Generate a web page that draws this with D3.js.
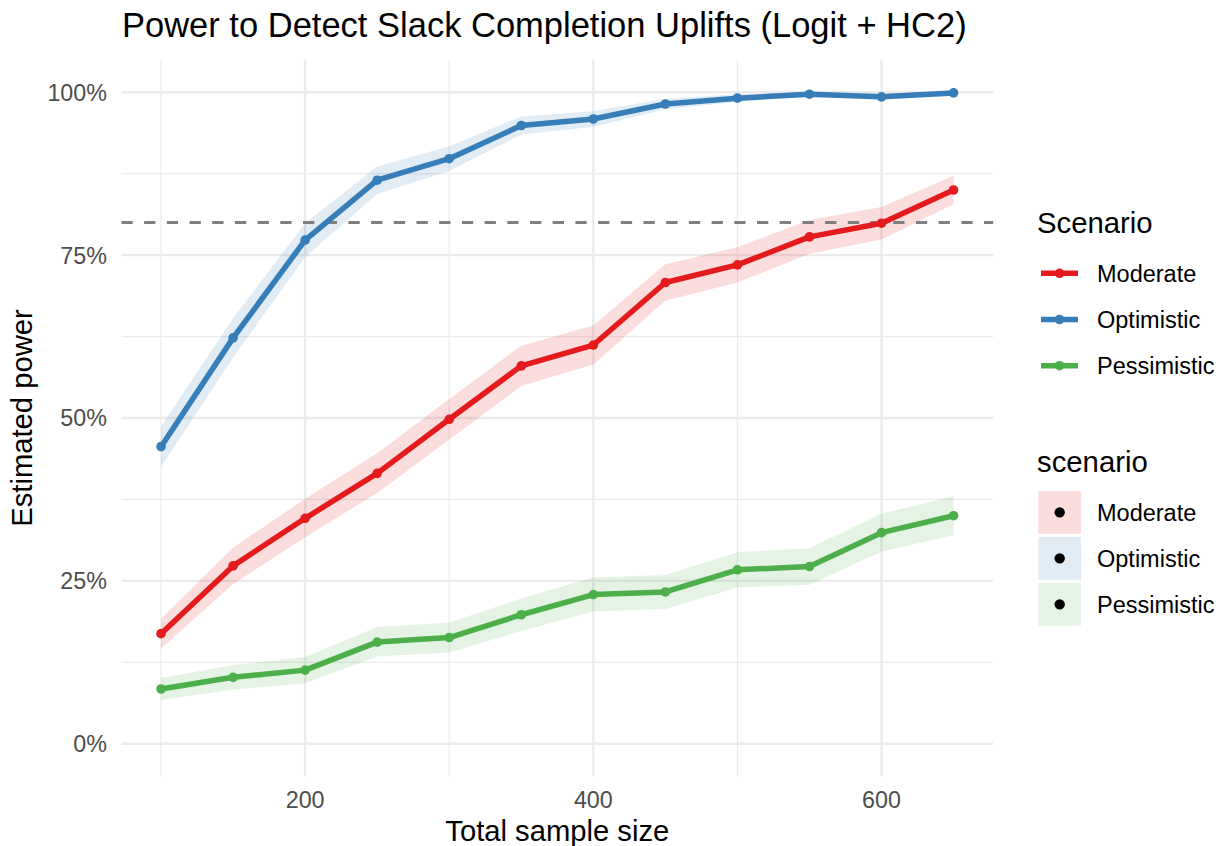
<!DOCTYPE html>
<html>
<head>
<meta charset="utf-8">
<script src="https://cdn.jsdelivr.net/npm/d3@7"></script>
<style>
  html, body { margin: 0; padding: 0; background: #fff; }
  svg { display: block; font-family: "Liberation Sans", Arial, Helvetica, sans-serif; }
</style>
</head>
<body>
<svg id="chart" width="1224" height="846"></svg>
<script>
// ---- data ----
const sampleSizes = [100, 150, 200, 250, 300, 350, 400, 450, 500, 550, 600, 650];
const scenarios = ["Moderate", "Optimistic", "Pessimistic"];
const moderatePower   = [0.169, 0.273, 0.346, 0.415, 0.498, 0.580, 0.612, 0.708, 0.735, 0.778, 0.799, 0.850];
const optimisticPower = [0.456, 0.623, 0.773, 0.865, 0.898, 0.949, 0.959, 0.982, 0.991, 0.997, 0.993, 0.999];
const pessimisticPower= [0.084, 0.102, 0.113, 0.156, 0.163, 0.198, 0.229, 0.233, 0.267, 0.272, 0.324, 0.350];
const moderateLower   = [0.146, 0.245, 0.317, 0.385, 0.467, 0.549, 0.582, 0.680, 0.708, 0.752, 0.774, 0.828];
const moderateUpper   = [0.192, 0.301, 0.376, 0.446, 0.529, 0.611, 0.642, 0.736, 0.762, 0.804, 0.824, 0.872];
const optimisticLower = [0.425, 0.593, 0.747, 0.844, 0.879, 0.935, 0.947, 0.974, 0.985, 0.994, 0.988, 0.997];
const optimisticUpper = [0.487, 0.653, 0.799, 0.886, 0.917, 0.963, 0.971, 0.990, 0.997, 1.000, 0.998, 1.000];
const pessimisticLower= [0.067, 0.083, 0.093, 0.134, 0.140, 0.173, 0.203, 0.207, 0.240, 0.244, 0.295, 0.320];
const pessimisticUpper= [0.101, 0.121, 0.133, 0.179, 0.186, 0.223, 0.255, 0.259, 0.294, 0.300, 0.353, 0.380];
const targetPower = 0.8;
const yTicks = [0, 0.25, 0.5, 0.75, 1];
const yMinorTicks = [0.125, 0.375, 0.625, 0.875];
const xTicks = [200, 400, 600];
const xMinorTicks = [100, 300, 500];
const colors = { Moderate: "#E41A1C", Optimistic: "#377EB8", Pessimistic: "#4DAF4A" };

const series = [
  { name: "Moderate", power: moderatePower, lower: moderateLower, upper: moderateUpper },
  { name: "Optimistic", power: optimisticPower, lower: optimisticLower, upper: optimisticUpper },
  { name: "Pessimistic", power: pessimisticPower, lower: pessimisticLower, upper: pessimisticUpper }
];

// ---- layout ----
const svg = d3.select("#chart");
const P = { left: 121.4, right: 993.2, top: 59.7, bottom: 776.3 };
const x = d3.scaleLinear().domain([72.5, 677.5]).range([P.left, P.right]);
const y = d3.scaleLinear().domain([-0.05, 1.05]).range([P.bottom, P.top]);
const grid = "#EBEBEB";

// grid
const g = svg.append("g");
g.selectAll(".hmin").data(yMinorTicks).join("line")
  .attr("x1", P.left).attr("x2", P.right).attr("y1", d => y(d)).attr("y2", d => y(d))
  .attr("stroke", grid).attr("stroke-width", 1.2);
g.selectAll(".vmin").data(xMinorTicks).join("line")
  .attr("y1", P.top).attr("y2", P.bottom).attr("x1", d => x(d)).attr("x2", d => x(d))
  .attr("stroke", grid).attr("stroke-width", 1.2);
g.selectAll(".hmaj").data(yTicks).join("line")
  .attr("x1", P.left).attr("x2", P.right).attr("y1", d => y(d)).attr("y2", d => y(d))
  .attr("stroke", grid).attr("stroke-width", 2.4);
g.selectAll(".vmaj").data(xTicks).join("line")
  .attr("y1", P.top).attr("y2", P.bottom).attr("x1", d => x(d)).attr("x2", d => x(d))
  .attr("stroke", grid).attr("stroke-width", 2.4);

// ribbons
const area = d3.area().x(d => x(d.n)).y0(d => y(d.lo)).y1(d => y(d.hi));
series.forEach(s => {
  const pts = sampleSizes.map((n, i) => ({ n, lo: s.lower[i], hi: s.upper[i] }));
  svg.append("path").datum(pts).attr("d", area)
    .attr("fill", colors[s.name]).attr("fill-opacity", 0.15);
});

// target line
svg.append("line")
  .attr("x1", P.left).attr("x2", P.right).attr("y1", y(targetPower)).attr("y2", y(targetPower))
  .attr("stroke", "#7F7F7F").attr("stroke-width", 3).attr("stroke-dasharray", "11.3,11.4");

// lines and points
const line = d3.line().x(d => x(d.n)).y(d => y(d.p));
series.forEach(s => {
  const pts = sampleSizes.map((n, i) => ({ n, p: s.power[i] }));
  svg.append("path").datum(pts).attr("d", line)
    .attr("fill", "none").attr("stroke", colors[s.name]).attr("stroke-width", 5.5)
    .attr("stroke-linejoin", "round");
  svg.append("g").selectAll("circle").data(pts).join("circle")
    .attr("cx", d => x(d.n)).attr("cy", d => y(d.p)).attr("r", 4.8)
    .attr("fill", colors[s.name]);
});

// axes text
svg.append("g").selectAll("text").data(yTicks).join("text")
  .attr("x", 107).attr("y", d => y(d) + 8.4)
  .attr("text-anchor", "end").attr("font-size", 23.3).attr("fill", "#4D4D4D")
  .text(d => d3.format(".0%")(d));
svg.append("g").selectAll("text").data(xTicks).join("text")
  .attr("x", d => x(d)).attr("y", 808.3)
  .attr("text-anchor", "middle").attr("font-size", 23.3).attr("fill", "#4D4D4D")
  .text(d => d);

svg.append("text").attr("x", (P.left + P.right) / 2).attr("y", 841)
  .attr("text-anchor", "middle").attr("font-size", 29.2).attr("fill", "#000")
  .text("Total sample size");
svg.append("text").attr("transform", `translate(32,${(P.top + P.bottom) / 2}) rotate(-90)`)
  .attr("text-anchor", "middle").attr("font-size", 29.2).attr("fill", "#000")
  .text("Estimated power");
svg.append("text").attr("x", 122).attr("y", 37)
  .attr("font-size", 34.5).attr("fill", "#000")
  .text("Power to Detect Slack Completion Uplifts (Logit + HC2)");

// legend 1: lines
const L1 = svg.append("g");
L1.append("text").attr("x", 1037).attr("y", 233).attr("font-size", 29.3).text("Scenario");
const rows1 = [273.3, 319.5, 365.7];
scenarios.forEach((s, i) => {
  L1.append("line").attr("x1", 1041).attr("x2", 1078).attr("y1", rows1[i]).attr("y2", rows1[i])
    .attr("stroke", colors[s]).attr("stroke-width", 5.5);
  L1.append("circle").attr("cx", 1059.5).attr("cy", rows1[i]).attr("r", 4.8).attr("fill", colors[s]);
  L1.append("text").attr("x", 1097).attr("y", rows1[i] + 8.4).attr("font-size", 23.5).text(s);
});

// legend 2: ribbons
const L2 = svg.append("g");
L2.append("text").attr("x", 1037).attr("y", 471.7).attr("font-size", 29.3).text("scenario");
const rows2 = [491, 537, 583];
scenarios.forEach((s, i) => {
  L2.append("rect").attr("x", 1038.3).attr("y", rows2[i]).attr("width", 42.7).attr("height", 42.7)
    .attr("fill", colors[s]).attr("fill-opacity", 0.15);
  L2.append("circle").attr("cx", 1059.7).attr("cy", rows2[i] + 21.35).attr("r", 5.2).attr("fill", "#000");
  L2.append("text").attr("x", 1097).attr("y", rows2[i] + 21.35 + 8.4).attr("font-size", 23.5).text(s);
});
</script>
</body>
</html>
